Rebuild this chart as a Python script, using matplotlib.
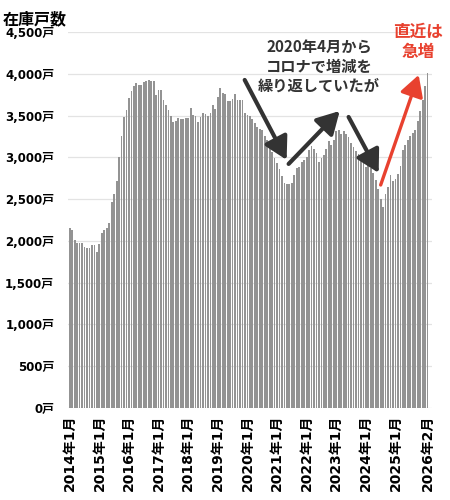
import matplotlib
matplotlib.use("Agg")
import matplotlib.pyplot as plt

plt.rcParams['font.family'] = ['DejaVu Sans', 'Noto Sans CJK JP']

# monthly inventory (units), 2014-01 .. 2026-02
stock_2014 = [2150, 2125, 2010, 1980, 1975, 1970, 1925, 1920, 1910, 1950, 1950, 1865]
stock_2015 = [1965, 2100, 2125, 2150, 2210, 2460, 2560, 2720, 3000, 3250, 3485, 3565]
stock_2016 = [3710, 3790, 3850, 3890, 3865, 3865, 3900, 3910, 3920, 3910, 3910, 3745]
stock_2017 = [3810, 3805, 3685, 3630, 3565, 3490, 3420, 3440, 3470, 3460, 3460, 3470]
stock_2018 = [3470, 3590, 3505, 3490, 3420, 3480, 3530, 3520, 3500, 3530, 3625, 3580]
stock_2019 = [3725, 3830, 3770, 3755, 3670, 3670, 3700, 3760, 3690, 3690, 3685, 3530]
stock_2020 = [3510, 3490, 3460, 3410, 3360, 3345, 3325, 3250, 3210, 3120, 3060, 2990]
stock_2021 = [2930, 2860, 2780, 2690, 2680, 2680, 2690, 2790, 2870, 2880, 2950, 2970]
stock_2022 = [3005, 3090, 3130, 3100, 3050, 2950, 2990, 3030, 3100, 3190, 3150, 3210]
stock_2023 = [3310, 3325, 3285, 3310, 3285, 3245, 3170, 3125, 3070, 3045, 2990, 2930]
stock_2024 = [2890, 2930, 2870, 2810, 2730, 2620, 2500, 2410, 2560, 2650, 2790, 2720]
stock_2025 = [2740, 2800, 2900, 3090, 3150, 3210, 3250, 3290, 3330, 3430, 3550, 3690]
stock_2026 = [3850, 4010]

years = list(range(2014, 2026))
stock = (stock_2014 + stock_2015 + stock_2016 + stock_2017 + stock_2018 + stock_2019
         + stock_2020 + stock_2021 + stock_2022 + stock_2023 + stock_2024 + stock_2025
         + stock_2026)

# x tick labels: each January plus the latest month
tick_pos = [12 * (y - 2014) for y in years] + [len(stock) - 1]
tick_lab = [f"{y}年1月" for y in years] + ["2026年2月"]

y_ticks = list(range(0, 4501, 500))

fig = plt.figure(figsize=(4.5, 5), dpi=100)
ax = fig.add_axes([68 / 450, 92 / 500, 364 / 450, 376 / 500])

ax.bar(range(len(stock)), stock, width=0.72, color='#939393', zorder=2)

ax.set_xlim(-0.7, len(stock) + 0.8)
ax.set_ylim(0, 4500)
ax.set_yticks(y_ticks)
ax.set_yticklabels([f"{v:,}戸" for v in y_ticks], fontsize=8.5, fontweight='bold')
ax.set_xticks(tick_pos)
ax.set_xticklabels(tick_lab, rotation=90, fontsize=10, fontweight='bold')
ax.tick_params(axis='y', length=0, pad=10)
ax.tick_params(axis='x', length=0, pad=5)
ax.grid(axis='y', color='#e3e3e3', lw=0.9, zorder=0)
ax.set_axisbelow(True)
for s in ax.spines.values():
    s.set_visible(False)

fig.text(0.006, 1 - 19 / 500, "在庫戸数", fontsize=11.5, fontweight='bold',
         ha='left', va='center', family=['Noto Sans CJK JP'])

# annotations
dark = '#333333'
red = '#e8412f'
head = '-|>,head_length=0.75,head_width=0.42'
ax.text(101, 4085, "2020年4月から\nコロナで増減を\n繰り返していたが", ha='center', va='center',
        fontsize=11, fontweight='bold', color=dark, linespacing=1.25,
        family=['Noto Sans CJK JP'], zorder=5)
ax.annotate("", xy=(87.9, 2969), xytext=(70.9, 3926),
            arrowprops=dict(arrowstyle=head, lw=3, color=dark, mutation_scale=18,
                            shrinkA=0, shrinkB=0), zorder=5)
ax.annotate("", xy=(109.4, 3555), xytext=(88.7, 2921),
            arrowprops=dict(arrowstyle=head, lw=3, color=dark, mutation_scale=18,
                            shrinkA=0, shrinkB=0), zorder=5)
ax.annotate("", xy=(125.2, 2813), xytext=(113, 3483),
            arrowprops=dict(arrowstyle=head, lw=3, color=dark, mutation_scale=18,
                            shrinkA=0, shrinkB=0), zorder=5)
ax.annotate("", xy=(141.4, 3986), xytext=(126, 2669),
            arrowprops=dict(arrowstyle=head, lw=2.4, color=red, mutation_scale=17,
                            shrinkA=0, shrinkB=0), zorder=5)
fig.text(418 / 450, 1 - 42 / 500, "直近は\n急増", ha='center', va='center',
         fontsize=12, fontweight='bold', color=red, linespacing=1.1,
         family=['Noto Sans CJK JP'])

fig.savefig("out.png", dpi=100)
